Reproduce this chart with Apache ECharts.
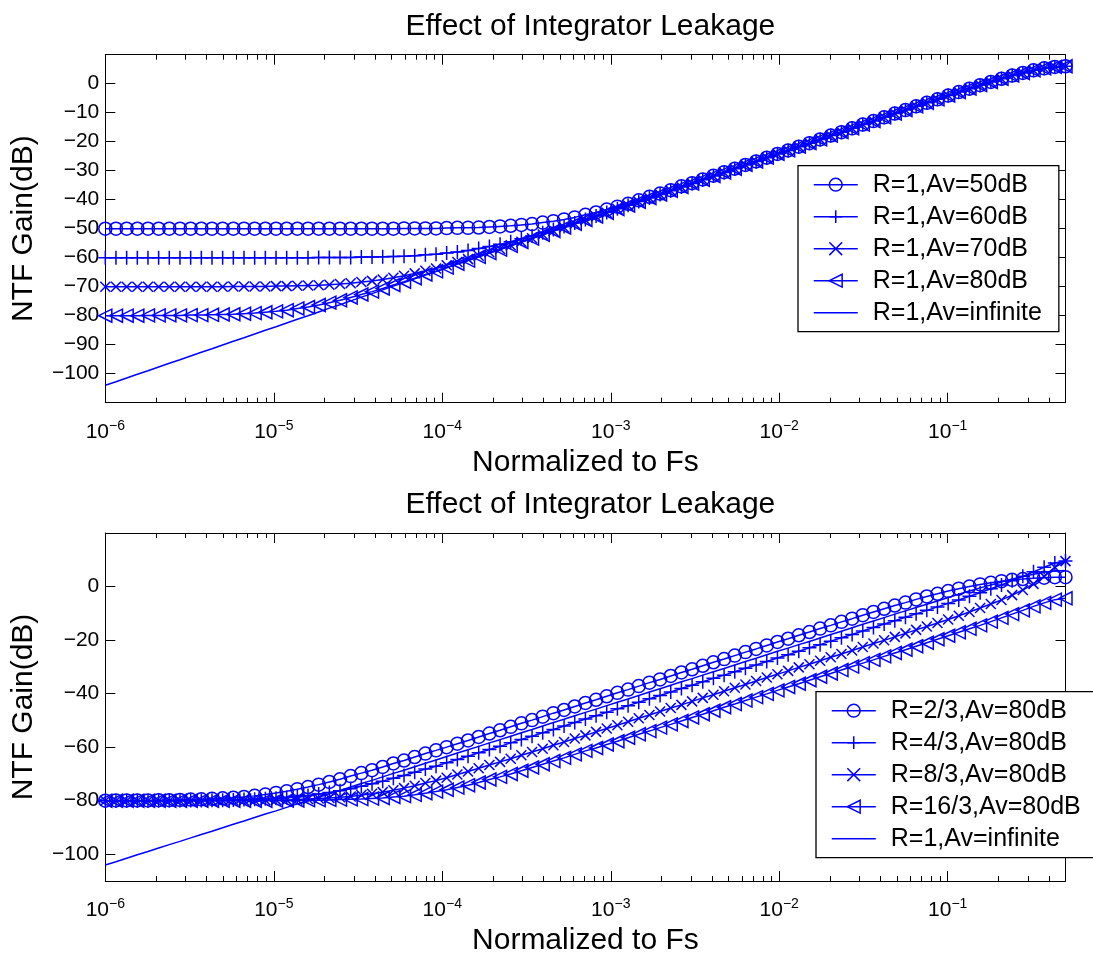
<!DOCTYPE html>
<html>
<head>
<meta charset="utf-8">
<title>Effect of Integrator Leakage</title>
<script src="https://cdn.jsdelivr.net/npm/echarts@6/dist/echarts.min.js"></script>
<style>
  html, body { margin: 0; padding: 0; background: #fff; }
  #chart { width: 1093px; height: 958px; }
</style>
</head>
<body>
<div id="chart"></div>
<script>
// Normalized frequency (f / Fs) of every plotted sample, log spaced from 1e-6 to 0.5
const freq = [
  1.000e-6, 1.157e-6, 1.339e-6, 1.549e-6, 1.792e-6, 2.073e-6, 2.398e-6, 2.775e-6, 3.211e-6, 3.715e-6, 4.298e-6, 4.972e-6, 5.753e-6, 6.656e-6, 7.700e-6, 8.909e-6,
  1.031e-5, 1.193e-5, 1.380e-5, 1.596e-5, 1.847e-5, 2.137e-5, 2.472e-5, 2.860e-5, 3.309e-5, 3.829e-5, 4.430e-5, 5.125e-5, 5.929e-5, 6.860e-5, 7.937e-5, 9.183e-5,
  1.062e-4, 1.229e-4, 1.422e-4, 1.645e-4, 1.904e-4, 2.203e-4, 2.548e-4, 2.948e-4, 3.411e-4, 3.946e-4, 4.566e-4, 5.283e-4, 6.112e-4, 7.071e-4, 8.181e-4, 9.465e-4,
  1.095e-3, 1.267e-3, 1.466e-3, 1.696e-3, 1.962e-3, 2.270e-3, 2.627e-3, 3.039e-3, 3.516e-3, 4.068e-3, 4.706e-3, 5.445e-3, 6.300e-3, 7.289e-3, 8.433e-3, 9.756e-3,
  1.129e-2, 1.306e-2, 1.511e-2, 1.748e-2, 2.022e-2, 2.340e-2, 2.707e-2, 3.132e-2, 3.624e-2, 4.193e-2, 4.851e-2, 5.612e-2, 6.493e-2, 7.513e-2, 8.692e-2,
  0.1006, 0.1163, 0.1346, 0.1557, 0.1802, 0.2085, 0.2412, 0.2791, 0.3229, 0.3735, 0.4322, 0.5
];

// NTF gain in dB, ideal integrator (R=1, Av=infinite)
const idealGain = [
  -104.0, -102.8, -101.5, -100.2, -99.0, -97.7, -96.4, -95.2, -93.9, -92.6,
  -91.4, -90.1, -88.8, -87.6, -86.3, -85.0, -83.8, -82.5, -81.2, -80.0,
  -78.7, -77.4, -76.2, -74.9, -73.6, -72.4, -71.1, -69.8, -68.6, -67.3,
  -66.0, -64.8, -63.5, -62.2, -61.0, -59.7, -58.4, -57.2, -55.9, -54.6,
  -53.4, -52.1, -50.8, -49.6, -48.3, -47.0, -45.8, -44.5, -43.2, -42.0,
  -40.7, -39.4, -38.2, -36.9, -35.6, -34.4, -33.1, -31.8, -30.6, -29.3,
  -28.0, -26.8, -25.5, -24.2, -23.0, -21.7, -20.5, -19.2, -17.9, -16.7,
  -15.4, -14.1, -12.9, -11.6, -10.3, -9.1, -7.8, -6.6, -5.4, -4.1,
  -2.9, -1.7, -0.5, 0.6, 1.7, 2.8, 3.7, 4.6, 5.3, 5.8, 6.0
];

// R=1 with finite integrator gain
const av50 = [
  -50, -50, -50, -50, -50, -50, -50, -50, -50, -50,
  -50, -50, -50, -50, -50, -50, -50, -50, -50, -50,
  -50, -50, -50, -50, -50, -50, -50, -50, -49.9, -49.9,
  -49.9, -49.9, -49.8, -49.7, -49.7, -49.6, -49.4, -49.2, -49.0, -48.7,
  -48.4, -47.9, -47.4, -46.8, -46.1, -45.2, -44.4, -43.4, -42.4, -41.4,
  -40.2, -39.0, -37.9, -36.7, -35.4, -34.3, -33.0, -31.7, -30.5, -29.3,
  -28.0, -26.8, -25.5, -24.2, -23.0, -21.7, -20.5, -19.2, -17.9, -16.7,
  -15.4, -14.1, -12.9, -11.6, -10.3, -9.1, -7.8, -6.6, -5.4, -4.1,
  -2.9, -1.7, -0.5, 0.6, 1.7, 2.8, 3.7, 4.6, 5.3, 5.8, 6.0
];
const av60 = [
  -60, -60, -60, -60, -60, -60, -60, -60, -60, -60,
  -60, -60, -60, -60, -60, -60, -60, -60, -60, -60,
  -59.9, -59.9, -59.9, -59.9, -59.8, -59.8, -59.7, -59.6, -59.5, -59.3,
  -59.0, -58.8, -58.4, -58.0, -57.5, -56.8, -56.1, -55.4, -54.5, -53.5,
  -52.5, -51.4, -50.3, -49.2, -48.0, -46.8, -45.6, -44.4, -43.1, -41.9,
  -40.6, -39.4, -38.2, -36.9, -35.6, -34.4, -33.1, -31.8, -30.6, -29.3,
  -28.0, -26.8, -25.5, -24.2, -23.0, -21.7, -20.5, -19.2, -17.9, -16.7,
  -15.4, -14.1, -12.9, -11.6, -10.3, -9.1, -7.8, -6.6, -5.4, -4.1,
  -2.9, -1.7, -0.5, 0.6, 1.7, 2.8, 3.7, 4.6, 5.3, 5.8, 6.0
];
const av70 = [
  -70, -70, -70, -70, -70, -70, -70, -70, -70, -70,
  -70, -70, -69.9, -69.9, -69.9, -69.9, -69.8, -69.8, -69.7, -69.6,
  -69.5, -69.3, -69.1, -68.8, -68.4, -68.0, -67.5, -66.9, -66.2, -65.4,
  -64.5, -63.7, -62.6, -61.5, -60.5, -59.3, -58.1, -57.0, -55.7, -54.5,
  -53.3, -52.0, -50.8, -49.6, -48.3, -47.0, -45.8, -44.5, -43.2, -42.0,
  -40.7, -39.4, -38.2, -36.9, -35.6, -34.4, -33.1, -31.8, -30.6, -29.3,
  -28.0, -26.8, -25.5, -24.2, -23.0, -21.7, -20.5, -19.2, -17.9, -16.7,
  -15.4, -14.1, -12.9, -11.6, -10.3, -9.1, -7.8, -6.6, -5.4, -4.1,
  -2.9, -1.7, -0.5, 0.6, 1.7, 2.8, 3.7, 4.6, 5.3, 5.8, 6.0
];
const av80 = [
  -80.0, -80.0, -80.0, -80.0, -79.9, -79.9, -79.9, -79.9, -79.8, -79.8,
  -79.7, -79.6, -79.5, -79.3, -79.1, -78.8, -78.5, -78.1, -77.5, -77.0,
  -76.3, -75.5, -74.7, -73.7, -72.7, -71.7, -70.6, -69.4, -68.3, -67.1,
  -65.8, -64.7, -63.4, -62.1, -61.0, -59.7, -58.4, -57.2, -55.9, -54.6,
  -53.4, -52.1, -50.8, -49.6, -48.3, -47.0, -45.8, -44.5, -43.2, -42.0,
  -40.7, -39.4, -38.2, -36.9, -35.6, -34.4, -33.1, -31.8, -30.6, -29.3,
  -28.0, -26.8, -25.5, -24.2, -23.0, -21.7, -20.5, -19.2, -17.9, -16.7,
  -15.4, -14.1, -12.9, -11.6, -10.3, -9.1, -7.8, -6.6, -5.4, -4.1,
  -2.9, -1.7, -0.5, 0.6, 1.7, 2.8, 3.7, 4.6, 5.3, 5.8, 6.0
];

// Av=80dB with different R
const r2of3 = [
  -80.0, -79.9, -79.9, -79.9, -79.9, -79.8, -79.8, -79.7, -79.6, -79.5,
  -79.3, -79.1, -78.9, -78.6, -78.2, -77.7, -77.1, -76.5, -75.7, -74.9,
  -74.0, -73.0, -72.0, -70.8, -69.7, -68.6, -67.4, -66.1, -65.0, -63.7,
  -62.4, -61.2, -60.0, -58.7, -57.5, -56.2, -54.9, -53.7, -52.4, -51.1,
  -49.9, -48.6, -47.3, -46.1, -44.8, -43.5, -42.3, -41.0, -39.7, -38.5,
  -37.2, -35.9, -34.7, -33.4, -32.1, -30.9, -29.6, -28.3, -27.1, -25.8,
  -24.5, -23.3, -22.0, -20.7, -19.5, -18.2, -17.0, -15.7, -14.5, -13.2,
  -12.0, -10.7, -9.5, -8.3, -7.1, -6.0, -4.8, -3.7, -2.7, -1.7,
  -0.8, 0.0, 0.8, 1.4, 2.0, 2.5, 2.8, 3.1, 3.3, 3.5, 3.5
];
const r4of3 = [
  -80.0, -80.0, -80.0, -80.0, -80.0, -80.0, -79.9, -79.9, -79.9, -79.9,
  -79.8, -79.8, -79.7, -79.6, -79.5, -79.3, -79.1, -78.8, -78.5, -78.1,
  -77.5, -76.9, -76.3, -75.5, -74.6, -73.7, -72.7, -71.6, -70.6, -69.4,
  -68.2, -67.1, -65.8, -64.6, -63.4, -62.1, -60.9, -59.7, -58.4, -57.1,
  -55.9, -54.6, -53.4, -52.1, -50.8, -49.5, -48.3, -47.0, -45.7, -44.5,
  -43.2, -41.9, -40.7, -39.4, -38.1, -36.9, -35.6, -34.3, -33.1, -31.8,
  -30.5, -29.3, -28.0, -26.7, -25.5, -24.2, -22.9, -21.7, -20.4, -19.1,
  -17.9, -16.6, -15.3, -14.0, -12.8, -11.5, -10.2, -8.9, -7.6, -6.3,
  -5.0, -3.6, -2.3, -0.8, 0.6, 2.2, 3.8, 5.5, 7.2, 8.8, 9.5
];
const r8of3 = [
  -80.0, -80.0, -80.0, -80.0, -80.0, -80.0, -80.0, -80.0, -80.0, -80.0,
  -80.0, -79.9, -79.9, -79.9, -79.9, -79.8, -79.7, -79.7, -79.6, -79.4,
  -79.2, -79.0, -78.7, -78.4, -77.9, -77.4, -76.8, -76.1, -75.3, -74.4,
  -73.4, -72.5, -71.4, -70.2, -69.1, -67.9, -66.7, -65.5, -64.3, -63.0,
  -61.8, -60.6, -59.3, -58.1, -56.8, -55.6, -54.3, -53.0, -51.8, -50.5,
  -49.2, -48.0, -46.7, -45.4, -44.2, -42.9, -41.6, -40.4, -39.1, -37.8,
  -36.6, -35.3, -34.0, -32.8, -31.5, -30.2, -29.0, -27.7, -26.4, -25.2,
  -23.9, -22.6, -21.3, -20.1, -18.8, -17.5, -16.2, -14.9, -13.6, -12.3,
  -10.9, -9.5, -8.0, -6.5, -5.0, -3.2, -1.3, 1.0, 3.8, 7.2, 9.5
];
const r16of3 = [
  -80.0, -80.0, -80.0, -80.0, -80.0, -80.0, -80.0, -80.0, -80.0, -80.0,
  -80.0, -80.0, -80.0, -80.0, -80.0, -80.0, -79.9, -79.9, -79.9, -79.8,
  -79.8, -79.7, -79.6, -79.5, -79.4, -79.2, -79.0, -78.6, -78.3, -77.8,
  -77.2, -76.6, -75.9, -75.1, -74.2, -73.2, -72.1, -71.1, -70.0, -68.8,
  -67.6, -66.4, -65.2, -64.0, -62.7, -61.4, -60.3, -59.0, -57.8, -56.5,
  -55.2, -54.0, -52.7, -51.5, -50.2, -48.9, -47.7, -46.4, -45.1, -43.9,
  -42.6, -41.3, -40.1, -38.8, -37.5, -36.3, -35.0, -33.7, -32.5, -31.2,
  -29.9, -28.6, -27.4, -26.1, -24.8, -23.6, -22.3, -21.0, -19.7, -18.4,
  -17.1, -15.8, -14.5, -13.1, -11.7, -10.3, -8.9, -7.4, -6.1, -4.9, -4.4
];

// Axis ticks
const decadeTicks = [1e-6, 1e-5, 1e-4, 1e-3, 1e-2, 1e-1];
const yTicksTop = [-100, -90, -80, -70, -60, -50, -40, -30, -20, -10, 0];
const yTicksBottom = [-100, -80, -60, -40, -20, 0];

// Texts
const titleText = 'Effect of Integrator Leakage';
const xName = 'Normalized to Fs';
const yName = 'NTF Gain(dB)';
const namesTop = ['R=1,Av=50dB', 'R=1,Av=60dB', 'R=1,Av=70dB', 'R=1,Av=80dB', 'R=1,Av=infinite'];
const namesBottom = ['R=2/3,Av=80dB', 'R=4/3,Av=80dB', 'R=8/3,Av=80dB', 'R=16/3,Av=80dB', 'R=1,Av=infinite'];

const FONT = '"Liberation Sans", Arial, Helvetica, sans-serif';
const BLUE = '#0000ff';
const LINE_W = 1.5;
const MARK_W = 1.5;
const MARK = {
  circle: 'circle',
  plus: 'path://M0,-1L0,1M-1,0L1,0',
  cross: 'path://M-1,-1L1,1M-1,1L1,-1',
  left: 'path://M-1,0L1,-1L1,1Z',
  none: 'none'
};

// minor log ticks 2..9 within each decade, below the 0.5 limit
const minorTicks = [];
decadeTicks.forEach(function (d) {
  for (let m = 2; m <= 9; m++) { if (m * d < 0.5) minorTicks.push(m * d); }
});

const PLOT_LEFT = 105.3, PLOT_W = 960.2, PLOT_H = 348;
const GRID_TOPS = [54.7, 533];

function pairs(values) {
  return freq.map(function (f, i) { return [f, values[i]]; });
}

function lineSeries(name, values, symbol, size, g) {
  return {
    type: 'line',
    name: name,
    xAxisIndex: g * 4,
    yAxisIndex: g * 2,
    data: pairs(values),
    symbol: symbol,
    symbolSize: size,
    showSymbol: symbol !== 'none',
    lineStyle: { color: BLUE, width: LINE_W },
    itemStyle: { color: 'transparent', borderColor: symbol === 'none' ? 'transparent' : BLUE, borderWidth: MARK_W },
    emphasis: { disabled: true },
    animation: false,
    silent: true
  };
}

const minus = function (v) { return String(v).replace('-', '\u2212'); };

const AXIS_LINE = { show: true, onZero: false, lineStyle: { color: '#000', width: 1 } };
const NO_LINE = { show: false, onZero: false };

function xAxesFor(g) {
  const base = {
    type: 'log', logBase: 10, gridIndex: g, min: 1e-6, max: 0.5,
    splitLine: { show: false }, minorTick: { show: false }, minorSplitLine: { show: false }
  };
  const main = Object.assign({}, base, {
    position: 'bottom',
    axisLine: AXIS_LINE,
    axisTick: { show: true, inside: true, length: 10, customValues: decadeTicks, lineStyle: { color: '#000', width: 1 } },
    axisLabel: {
      show: true, customValues: decadeTicks, margin: 16,
      formatter: function (v) {
        const e = Math.round(Math.log10(v));
        return '{b|10}{s|' + (e < 0 ? '\u2212' : '') + Math.abs(e) + '}';
      },
      rich: {
        b: { fontSize: 21, fontFamily: FONT, color: '#000', verticalAlign: 'bottom', lineHeight: 24 },
        s: { fontSize: 14, fontFamily: FONT, color: '#000', verticalAlign: 'top', lineHeight: 14, padding: [0, 0, 10, 0] }
      }
    },
    name: xName, nameLocation: 'middle', nameGap: 45,
    nameTextStyle: { fontSize: 30, fontFamily: FONT, color: '#000' }
  });
  const top = Object.assign({}, base, {
    position: 'top',
    axisLine: AXIS_LINE,
    axisTick: { show: true, inside: true, length: 10, customValues: decadeTicks, lineStyle: { color: '#000', width: 1 } },
    axisLabel: { show: false }
  });
  const minorBottom = Object.assign({}, base, {
    position: 'bottom',
    axisLine: NO_LINE,
    axisTick: { show: true, inside: true, length: 5, customValues: minorTicks, lineStyle: { color: '#000', width: 1 } },
    axisLabel: { show: false }
  });
  const minorTop = Object.assign({}, minorBottom, { position: 'top' });
  return [main, top, minorBottom, minorTop];
}

function yAxesFor(g, ticks, max) {
  const base = {
    type: 'value', gridIndex: g, min: -110, max: max,
    splitLine: { show: false },
    axisLine: AXIS_LINE,
    axisTick: { show: true, inside: true, length: 10, customValues: ticks, lineStyle: { color: '#000', width: 1 } }
  };
  const left = Object.assign({}, base, {
    position: 'left',
    axisLabel: { show: true, customValues: ticks, margin: 6, formatter: minus, fontSize: 21, fontFamily: FONT, color: '#000' },
    name: yName, nameLocation: 'middle', nameGap: 67, nameRotate: 90,
    nameTextStyle: { fontSize: 30, fontFamily: FONT, color: '#000' }
  });
  const right = Object.assign({}, base, { position: 'right', axisLabel: { show: false } });
  return [left, right];
}

function legendFor(names, left, top, padRight) {
  return {
    data: names, orient: 'vertical', left: left, top: top,
    itemWidth: 44, itemHeight: 16, itemGap: 6,
    padding: [6, padRight, 6, 15],
    borderColor: '#000', borderWidth: 1.3, backgroundColor: '#fff',
    selectedMode: false,
    itemStyle: { borderWidth: MARK_W },
    lineStyle: { width: LINE_W },
    textStyle: { fontSize: 25, fontFamily: FONT, color: '#000', lineHeight: 26, padding: [0, 0, 0, 10] }
  };
}

const option = {
  backgroundColor: '#fff',
  animation: false,
  title: [
    { text: titleText, left: PLOT_LEFT + PLOT_W / 2, textAlign: 'center', top: 5,
      textStyle: { fontSize: 30, fontWeight: 'normal', fontFamily: FONT, color: '#000', lineHeight: 34 } },
    { text: titleText, left: PLOT_LEFT + PLOT_W / 2, textAlign: 'center', top: 483,
      textStyle: { fontSize: 30, fontWeight: 'normal', fontFamily: FONT, color: '#000', lineHeight: 34 } }
  ],
  grid: GRID_TOPS.map(function (t) {
    return { left: PLOT_LEFT, top: t, width: PLOT_W, height: PLOT_H, containLabel: false, outerBoundsMode: 'none' };
  }),
  xAxis: xAxesFor(0).concat(xAxesFor(1)),
  yAxis: yAxesFor(0, yTicksTop, 10).concat(yAxesFor(1, yTicksBottom, 20)),
  legend: [
    legendFor(namesTop, 798, 165.7, 17),
    legendFor(namesBottom, 816, 691.7, 14)
  ],
  series: [
    lineSeries(namesTop[0], av50, MARK.circle, 13, 0),
    lineSeries(namesTop[1], av60, MARK.plus, 14, 0),
    lineSeries(namesTop[2], av70, MARK.cross, 10, 0),
    lineSeries(namesTop[3], av80, MARK.left, 13, 0),
    lineSeries(namesTop[4], idealGain, MARK.none, 0, 0),
    lineSeries(namesBottom[0], r2of3, MARK.circle, 13, 1),
    lineSeries(namesBottom[1], r4of3, MARK.plus, 14, 1),
    lineSeries(namesBottom[2], r8of3, MARK.cross, 10, 1),
    lineSeries(namesBottom[3], r16of3, MARK.left, 13, 1),
    lineSeries(namesBottom[4], idealGain, MARK.none, 0, 1)
  ]
};

const chart = echarts.init(document.getElementById('chart'), null, { renderer: 'canvas' });
chart.setOption(option);
</script>
</body>
</html>
